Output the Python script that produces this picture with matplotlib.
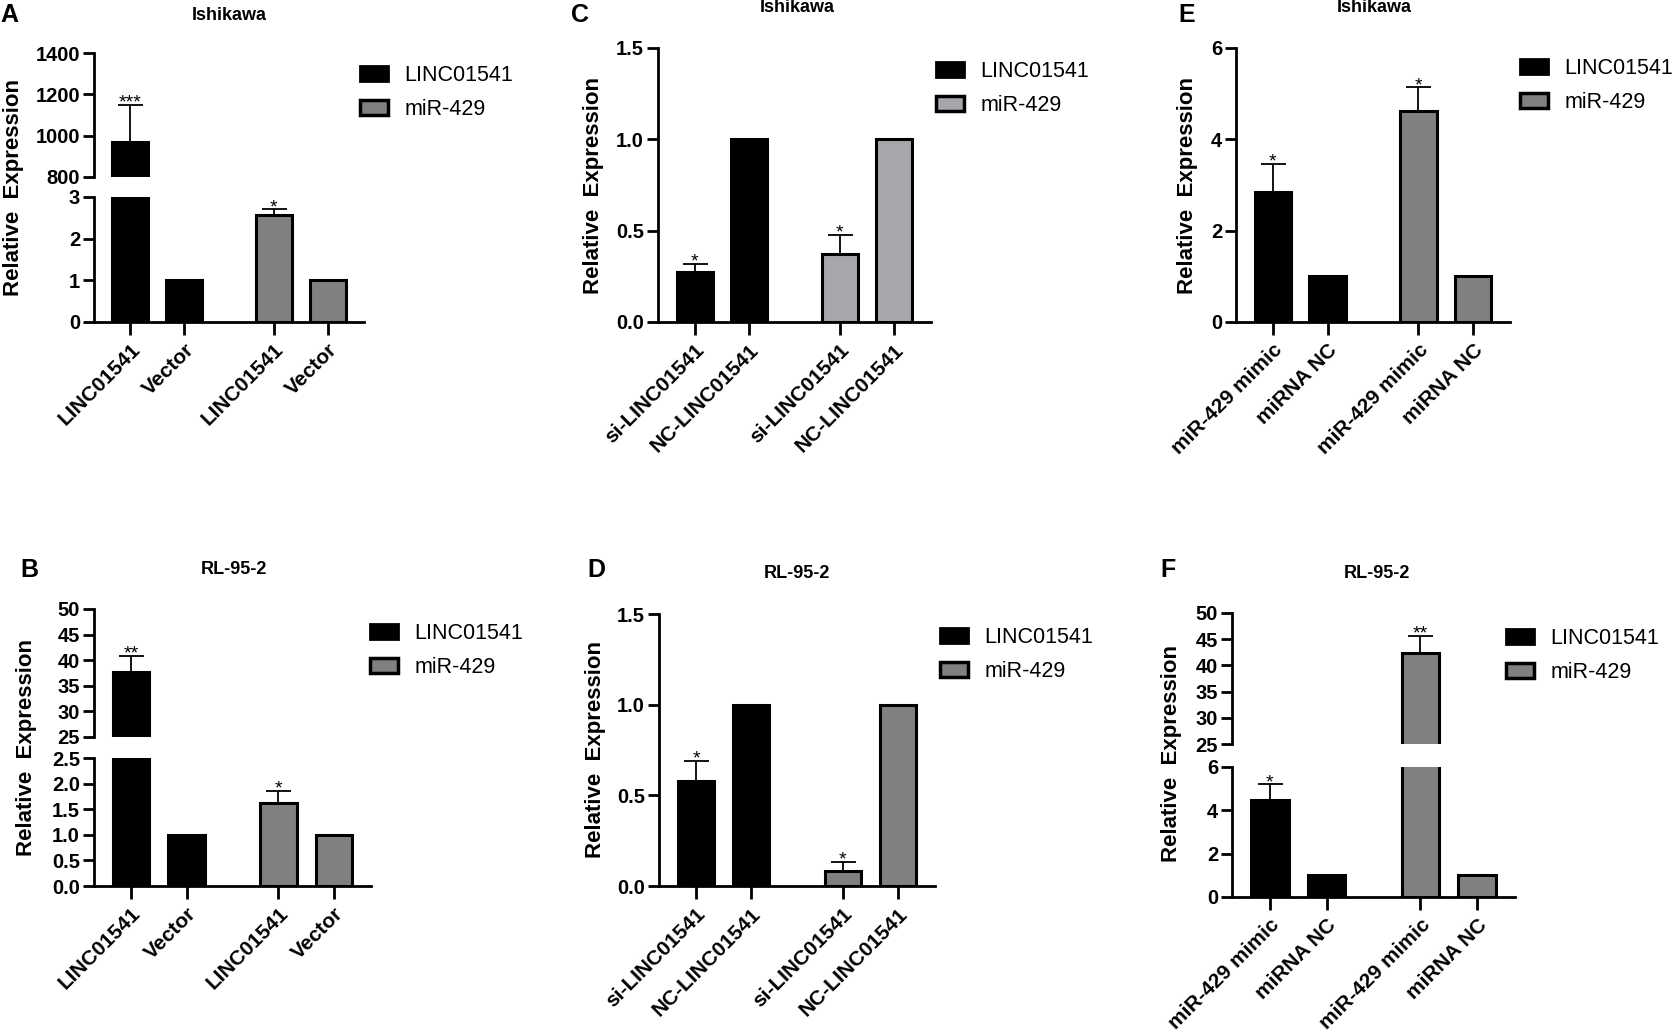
import matplotlib

matplotlib.use("Agg")
import matplotlib.pyplot as plt
from matplotlib.patches import Patch

plt.rcParams["font.family"] = ["Liberation Sans", "DejaVu Sans"]

W, H = 1672, 1036

# ---- data ----
series_names = ["LINC01541", "miR-429"]
ab_labels = ["LINC01541", "Vector", "LINC01541", "Vector"]
cd_labels = ["si-LINC01541", "NC-LINC01541", "si-LINC01541", "NC-LINC01541"]
ef_labels = ["miR-429 mimic", "miRNA NC", "miR-429 mimic", "miRNA NC"]

a_vals = [968, 1.0, 2.57, 1.0]
a_err = [182, 0, 0.13, 0]
a_sig = ["***", "", "*", ""]

b_vals = [37.6, 1.0, 1.63, 1.0]
b_err = [3.3, 0, 0.23, 0]
b_sig = ["**", "", "*", ""]

c_vals = [0.275, 1.0, 0.37, 1.0]
c_err = [0.045, 0, 0.107, 0]
c_sig = ["*", "", "*", ""]

d_vals = [0.58, 1.0, 0.08, 1.0]
d_err = [0.11, 0, 0.052, 0]
d_sig = ["*", "", "*", ""]

e_vals = [2.84, 1.0, 4.62, 1.0]
e_err = [0.63, 0, 0.52, 0]
e_sig = ["*", "", "*", ""]

f_vals = [4.49, 1.0, 42.45, 1.0]
f_err = [0.71, 0, 3.25, 0]
f_sig = ["*", "", "**", ""]

GREY = "#808080"
LIGHT_GREY = "#a6a6ab"
XPOS = [0, 1, 2.66, 3.66]
XLIM = (-0.67, 4.33)

fig = plt.figure(figsize=(W / 100, H / 100), dpi=100)


def px_axes(x0, x1, ytop, ybot):
    return fig.add_axes([x0 / W, 1 - ybot / H, (x1 - x0) / W, (ybot - ytop) / H])


def style_axes(ax, yticks, fmt, show_x, labels=None):
    ax.set_xlim(*XLIM)
    ax.set_ylim(yticks[0], yticks[-1])
    ax.set_yticks(yticks)
    ax.set_yticklabels([fmt.format(t) for t in yticks], fontsize=14.5, fontweight="bold")
    ax.spines["top"].set_visible(False)
    ax.spines["right"].set_visible(False)
    ax.spines["left"].set_linewidth(2)
    ax.spines["bottom"].set_linewidth(2)
    ax.tick_params(axis="y", direction="out", length=8, width=2, pad=2)
    if show_x:
        ax.set_xticks(XPOS)
        ax.set_xticklabels(labels, rotation=45, ha="right", va="top",
                           rotation_mode="anchor", fontsize=15, fontweight="bold")
        ax.tick_params(axis="x", direction="out", length=9, width=2, pad=4)
    else:
        ax.spines["bottom"].set_visible(False)
        ax.set_xticks([])
    ax.patch.set_visible(False)


def draw_bars(ax, vals, errs, sig, mir_color):
    colors = ["black", "black", mir_color, mir_color]
    ax.bar(XPOS, vals, width=0.66, color=colors, edgecolor="black", linewidth=2.2, zorder=2)
    ax.errorbar(XPOS, vals, yerr=[[0] * len(vals), errs], fmt="none", ecolor="black",
                elinewidth=1.3, capsize=9, capthick=1.3, zorder=1)
    for x, v, e, s in zip(XPOS, vals, errs, sig):
        if s:
            ax.annotate(s, xy=(x, v + e), xytext=(0, -2), textcoords="offset points",
                        ha="center", va="baseline", fontsize=14)


def legend(x, y1, y2, mir_color):
    handles = [Patch(facecolor="black", edgecolor="black", linewidth=2),
               Patch(facecolor=mir_color, edgecolor="black", linewidth=2.5)]
    fig.legend(handles, series_names, loc="center left",
               bbox_to_anchor=(x / W, 1 - ((y1 + y2) / 2 + 3) / H), frameon=False,
               fontsize=15.5, handlelength=1.3, handleheight=0.65, handletextpad=0.75,
               labelspacing=0.6, borderpad=0, borderaxespad=0)


def panel_text(letter, lx, ly, title, tx, ty, ylx, yly):
    fig.text(lx / W, 1 - ly / H, letter, fontsize=18, fontweight="bold", ha="left", va="center")
    fig.text(tx / W, 1 - ty / H, title, fontsize=13, fontweight="bold", ha="center", va="center")
    fig.text(ylx / W, 1 - yly / H, "Relative  Expression", fontsize=16, fontweight="bold",
             rotation=90, ha="center", va="center")


def broken_panel(x0, x1, hi_box, lo_box, hi_ticks, lo_ticks, lo_fmt, hi_fmt,
                 labels, vals, errs, sig, mir_color):
    ax_hi = px_axes(x0, x1, *hi_box)
    ax_lo = px_axes(x0, x1, *lo_box)
    for ax in (ax_hi, ax_lo):
        draw_bars(ax, vals, errs, sig, mir_color)
    style_axes(ax_hi, hi_ticks, hi_fmt, False)
    style_axes(ax_lo, lo_ticks, lo_fmt, True, labels)


def single_panel(x0, x1, box, ticks, fmt, labels, vals, errs, sig, mir_color):
    ax = px_axes(x0, x1, *box)
    draw_bars(ax, vals, errs, sig, mir_color)
    style_axes(ax, ticks, fmt, True, labels)


# A
broken_panel(94, 364, (53, 177), (197, 322), [800, 1000, 1200, 1400], [0, 1, 2, 3],
             "{:d}", "{:d}", ab_labels, a_vals, a_err, a_sig, GREY)
panel_text("A", 0, 15, "Ishikawa", 229, 15, 14, 188)
legend(360, 72, 107, GREY)

# B
broken_panel(94, 371, (609, 737), (758, 886), [25, 30, 35, 40, 45, 50],
             [0.0, 0.5, 1.0, 1.5, 2.0, 2.5], "{:.1f}", "{:d}",
             ab_labels, b_vals, b_err, b_sig, GREY)
panel_text("B", 20, 570, "RL-95-2", 234, 570, 27, 747)
legend(370, 628, 667, GREY)

# C
single_panel(658, 931, (48, 322), [0.0, 0.5, 1.0, 1.5], "{:.1f}",
             cd_labels, c_vals, c_err, c_sig, LIGHT_GREY)
panel_text("C", 571, 15, "Ishikawa", 797, 8, 594, 185)
legend(936, 67, 104, LIGHT_GREY)

# D
single_panel(659, 935, (614, 886), [0.0, 0.5, 1.0, 1.5], "{:.1f}",
             cd_labels, d_vals, d_err, d_sig, GREY)
panel_text("D", 587, 570, "RL-95-2", 797, 573, 596, 749)
legend(940, 633, 670, GREY)

# E
single_panel(1236, 1510, (48, 322), [0, 2, 4, 6], "{:d}",
             ef_labels, e_vals, e_err, e_sig, GREY)
panel_text("E", 1178, 15, "Ishikawa", 1374, 8, 1187, 185)
legend(1520, 63, 102, GREY)

# F
broken_panel(1232, 1515, (613, 744), (767, 897), [25, 30, 35, 40, 45, 50], [0, 2, 4, 6],
             "{:d}", "{:d}", ef_labels, f_vals, f_err, f_sig, GREY)
panel_text("F", 1160, 570, "RL-95-2", 1377, 573, 1172, 754)
legend(1506, 633, 672, GREY)

fig.savefig("out.png", dpi=100)
